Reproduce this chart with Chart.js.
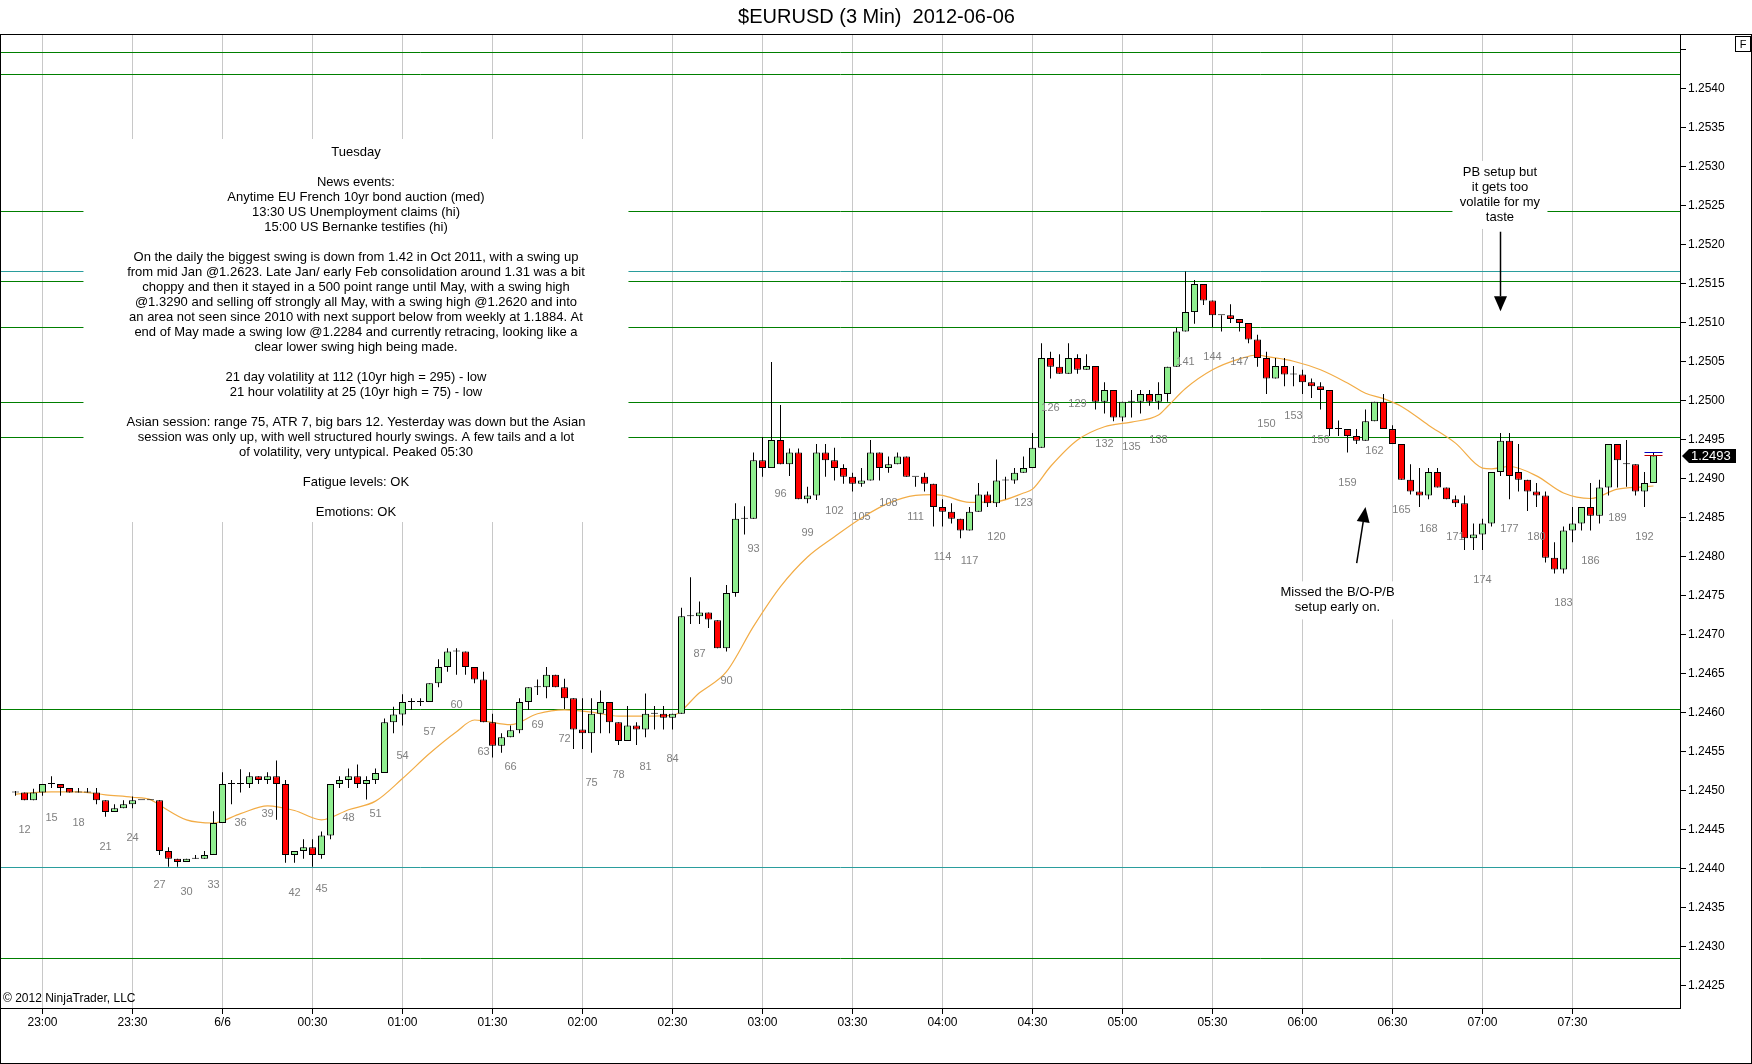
<!DOCTYPE html>
<html>
<head>
<meta charset="utf-8">
<title>$EURUSD (3 Min) 2012-06-06</title>
<script src="https://cdn.jsdelivr.net/npm/chart.js@4.4.1/dist/chart.umd.min.js"></script>
<style>
  html, body { margin: 0; padding: 0; background: #fff; }
  #wrap { width: 1752px; height: 1064px; position: relative; }
</style>
</head>
<body>
<div id="wrap"><canvas id="myChart"></canvas></div>
<script>
'use strict';

// first bar number shown on the chart, every following bar is +1
const firstBar = 11;

// OHLC, bars 11 .. 193 (10 per line)
const opens = [
  1.24498, 1.24498, 1.24488, 1.24498, 1.24509, 1.24509, 1.24504, 1.24498, 1.24498, 1.24498,
  1.24488, 1.24473, 1.24478, 1.24483, 1.24488, 1.24488, 1.24488, 1.24423, 1.24413, 1.24409,
  1.24413, 1.24413, 1.24418, 1.24459, 1.24509, 1.24509, 1.24509, 1.24519, 1.24514, 1.24519,
  1.24509, 1.24418, 1.24423, 1.24428, 1.24418, 1.24443, 1.24509, 1.24514, 1.24519, 1.24509,
  1.24514, 1.24523, 1.24588, 1.24598, 1.24614, 1.24614, 1.24614, 1.24638, 1.24659, 1.24679,
  1.24679, 1.24659, 1.24643, 1.24588, 1.24558, 1.24569, 1.24578, 1.24614, 1.24633, 1.24633,
  1.24649, 1.24633, 1.24619, 1.24579, 1.24574, 1.24599, 1.24614, 1.24588, 1.24564, 1.24584,
  1.24579, 1.24599, 1.24599, 1.24594, 1.24599, 1.24724, 1.24724, 1.24729, 1.24719, 1.24683,
  1.24754, 1.24849, 1.24849, 1.24924, 1.24914, 1.24950, 1.24919, 1.24934, 1.24874, 1.24879,
  1.24934, 1.24924, 1.24914, 1.24903, 1.24894, 1.24898, 1.24934, 1.24914, 1.24919, 1.24929,
  1.24903, 1.24903, 1.24894, 1.24864, 1.24858, 1.24849, 1.24834, 1.24858, 1.24880, 1.24869,
  1.24898, 1.24898, 1.24908, 1.24914, 1.24940, 1.25055, 1.25044, 1.25035, 1.25055, 1.25040,
  1.25045, 1.24999, 1.25014, 1.24979, 1.24999, 1.24999, 1.25009, 1.24999, 1.25009, 1.25044,
  1.25089, 1.25114, 1.25150, 1.25129, 1.25110, 1.25110, 1.25105, 1.25100, 1.25079, 1.25055,
  1.25029, 1.25045, 1.25034, 1.25034, 1.25024, 1.25019, 1.25014, 1.24964, 1.24964, 1.24955,
  1.24949, 1.24974, 1.24999, 1.24964, 1.24945, 1.24899, 1.24884, 1.24879, 1.24909, 1.24889,
  1.24874, 1.24869, 1.24824, 1.24829, 1.24843, 1.24909, 1.24949, 1.24909, 1.24899, 1.24884,
  1.24879, 1.24799, 1.24784, 1.24834, 1.24843, 1.24864, 1.24853, 1.24889, 1.24945, 1.24919,
  1.24919, 1.24884, 1.24895
];
const highs = [
  1.24500, 1.24498, 1.24503, 1.24509, 1.24519, 1.24509, 1.24504, 1.24504, 1.24504, 1.24504,
  1.24488, 1.24483, 1.24488, 1.24493, 1.24488, 1.24488, 1.24488, 1.24428, 1.24413, 1.24413,
  1.24418, 1.24423, 1.24474, 1.24524, 1.24514, 1.24528, 1.24524, 1.24519, 1.24524, 1.24539,
  1.24514, 1.24423, 1.24438, 1.24438, 1.24448, 1.24509, 1.24519, 1.24529, 1.24534, 1.24519,
  1.24529, 1.24593, 1.24608, 1.24624, 1.24619, 1.24619, 1.24638, 1.24669, 1.24683, 1.24683,
  1.24679, 1.24659, 1.24653, 1.24599, 1.24574, 1.24584, 1.24619, 1.24633, 1.24643, 1.24659,
  1.24649, 1.24644, 1.24619, 1.24619, 1.24619, 1.24629, 1.24614, 1.24588, 1.24609, 1.24588,
  1.24625, 1.24609, 1.24609, 1.24599, 1.24735, 1.24774, 1.24743, 1.24729, 1.24719, 1.24764,
  1.24869, 1.24865, 1.24934, 1.24954, 1.25050, 1.24995, 1.24939, 1.24939, 1.24890, 1.24945,
  1.24945, 1.24940, 1.24919, 1.24908, 1.24914, 1.24950, 1.24934, 1.24929, 1.24934, 1.24929,
  1.24903, 1.24908, 1.24894, 1.24874, 1.24869, 1.24849, 1.24864, 1.24895, 1.24884, 1.24925,
  1.24903, 1.24914, 1.24929, 1.24959, 1.25074, 1.25063, 1.25060, 1.25074, 1.25060, 1.25060,
  1.25045, 1.25024, 1.25014, 1.24999, 1.25014, 1.25014, 1.25014, 1.25024, 1.25044, 1.25094,
  1.25166, 1.25155, 1.25150, 1.25129, 1.25110, 1.25124, 1.25105, 1.25100, 1.25085, 1.25063,
  1.25055, 1.25055, 1.25045, 1.25040, 1.25029, 1.25024, 1.25014, 1.24975, 1.24964, 1.24964,
  1.24989, 1.24999, 1.25009, 1.24969, 1.24945, 1.24919, 1.24914, 1.24914, 1.24914, 1.24889,
  1.24879, 1.24879, 1.24843, 1.24849, 1.24909, 1.24959, 1.24959, 1.24945, 1.24899, 1.24895,
  1.24884, 1.24819, 1.24839, 1.24864, 1.24864, 1.24895, 1.24899, 1.24945, 1.24945, 1.24950,
  1.24919, 1.24909, 1.24934
];
const lows = [
  1.24494, 1.24488, 1.24488, 1.24494, 1.24504, 1.24494, 1.24498, 1.24498, 1.24498, 1.24483,
  1.24467, 1.24473, 1.24478, 1.24478, 1.24488, 1.24488, 1.24418, 1.24403, 1.24403, 1.24409,
  1.24413, 1.24413, 1.24418, 1.24459, 1.24483, 1.24498, 1.24504, 1.24509, 1.24509, 1.24463,
  1.24408, 1.24408, 1.24413, 1.24403, 1.24413, 1.24438, 1.24504, 1.24504, 1.24504, 1.24489,
  1.24509, 1.24523, 1.24574, 1.24584, 1.24604, 1.24609, 1.24614, 1.24633, 1.24653, 1.24649,
  1.24649, 1.24638, 1.24588, 1.24543, 1.24549, 1.24569, 1.24574, 1.24604, 1.24623, 1.24619,
  1.24633, 1.24605, 1.24554, 1.24554, 1.24549, 1.24574, 1.24574, 1.24559, 1.24564, 1.24559,
  1.24569, 1.24579, 1.24579, 1.24579, 1.24599, 1.24714, 1.24714, 1.24709, 1.24683, 1.24679,
  1.24749, 1.24829, 1.24849, 1.24903, 1.24914, 1.24919, 1.24904, 1.24874, 1.24869, 1.24873,
  1.24903, 1.24898, 1.24894, 1.24884, 1.24890, 1.24898, 1.24898, 1.24908, 1.24919, 1.24903,
  1.24890, 1.24884, 1.24839, 1.24839, 1.24843, 1.24824, 1.24834, 1.24858, 1.24864, 1.24864,
  1.24874, 1.24894, 1.24908, 1.24914, 1.24940, 1.25029, 1.25035, 1.25035, 1.25035, 1.25040,
  1.24989, 1.24984, 1.24974, 1.24974, 1.24979, 1.24984, 1.24994, 1.24989, 1.24999, 1.25044,
  1.25089, 1.25099, 1.25123, 1.25095, 1.25089, 1.25100, 1.25089, 1.25074, 1.25044, 1.25009,
  1.25029, 1.25019, 1.25019, 1.25009, 1.25004, 1.24989, 1.24955, 1.24955, 1.24934, 1.24945,
  1.24949, 1.24974, 1.24964, 1.24945, 1.24899, 1.24880, 1.24864, 1.24874, 1.24889, 1.24874,
  1.24864, 1.24809, 1.24809, 1.24809, 1.24839, 1.24904, 1.24874, 1.24884, 1.24859, 1.24864,
  1.24793, 1.24779, 1.24779, 1.24819, 1.24834, 1.24834, 1.24843, 1.24879, 1.24889, 1.24890,
  1.24879, 1.24864, 1.24895
];
const closes = [
  1.24498, 1.24488, 1.24498, 1.24509, 1.24509, 1.24504, 1.24498, 1.24498, 1.24498, 1.24488,
  1.24473, 1.24478, 1.24483, 1.24488, 1.24488, 1.24488, 1.24423, 1.24413, 1.24409, 1.24413,
  1.24413, 1.24418, 1.24459, 1.24509, 1.24509, 1.24509, 1.24519, 1.24514, 1.24519, 1.24509,
  1.24418, 1.24423, 1.24428, 1.24418, 1.24443, 1.24509, 1.24514, 1.24519, 1.24509, 1.24514,
  1.24523, 1.24588, 1.24598, 1.24614, 1.24614, 1.24614, 1.24638, 1.24659, 1.24679, 1.24679,
  1.24659, 1.24643, 1.24588, 1.24558, 1.24569, 1.24578, 1.24614, 1.24633, 1.24633, 1.24649,
  1.24633, 1.24619, 1.24579, 1.24574, 1.24599, 1.24614, 1.24588, 1.24564, 1.24584, 1.24579,
  1.24599, 1.24599, 1.24594, 1.24599, 1.24724, 1.24724, 1.24729, 1.24720, 1.24683, 1.24754,
  1.24849, 1.24849, 1.24924, 1.24914, 1.24950, 1.24919, 1.24934, 1.24874, 1.24879, 1.24934,
  1.24924, 1.24914, 1.24903, 1.24894, 1.24898, 1.24934, 1.24914, 1.24919, 1.24929, 1.24903,
  1.24903, 1.24894, 1.24864, 1.24858, 1.24849, 1.24834, 1.24858, 1.24880, 1.24869, 1.24898,
  1.24898, 1.24908, 1.24914, 1.24940, 1.25055, 1.25044, 1.25035, 1.25055, 1.25040, 1.25045,
  1.24999, 1.25014, 1.24979, 1.24999, 1.24999, 1.25009, 1.24999, 1.25009, 1.25044, 1.25089,
  1.25114, 1.25150, 1.25129, 1.25110, 1.25110, 1.25105, 1.25100, 1.25079, 1.25055, 1.25029,
  1.25045, 1.25034, 1.25034, 1.25024, 1.25019, 1.25014, 1.24964, 1.24964, 1.24955, 1.24949,
  1.24974, 1.24999, 1.24964, 1.24945, 1.24899, 1.24884, 1.24879, 1.24909, 1.24889, 1.24874,
  1.24869, 1.24824, 1.24829, 1.24843, 1.24909, 1.24949, 1.24904, 1.24899, 1.24884, 1.24879,
  1.24799, 1.24784, 1.24834, 1.24843, 1.24864, 1.24853, 1.24889, 1.24945, 1.24924, 1.24919,
  1.24884, 1.24895, 1.24930
];

// moving average at these bars
const emaBars = [11, 12, 15, 18, 21, 24, 26, 27, 30, 33, 36, 39, 42, 45, 48, 51, 54, 57, 60, 62,
  63, 66, 69, 72, 75, 78, 81, 84, 87, 90, 93, 96, 99, 102, 105, 108, 111, 113, 114, 117,
  120, 123, 124, 126, 129, 132, 135, 138, 139, 141, 144, 147, 149, 150, 153, 156, 159, 161, 163, 165,
  168, 171, 174, 175, 177, 180, 183, 186, 189, 192, 193];
const emaValues = [1.24496, 1.24497, 1.24499, 1.24499, 1.24495, 1.24492, 1.24489, 1.24482, 1.24463, 1.24459,
  1.24471, 1.24481, 1.24475, 1.24463, 1.24476, 1.24487, 1.24516, 1.24548, 1.24576, 1.24591,
  1.24590, 1.24585, 1.24599, 1.24604, 1.24601, 1.24596, 1.24596, 1.24597, 1.24626, 1.24653,
  1.24711, 1.24762, 1.24800, 1.24826, 1.24850, 1.24869, 1.24879, 1.24880, 1.24879, 1.24870,
  1.24871, 1.24882, 1.24887, 1.24916, 1.24950, 1.24967, 1.24973, 1.24982, 1.24993, 1.25016,
  1.25040, 1.25054, 1.25059, 1.25057, 1.25051, 1.25040, 1.25023, 1.25010, 1.25003, 1.24993,
  1.24969, 1.24946, 1.24914, 1.24913, 1.24916, 1.24904, 1.24882, 1.24875, 1.24887, 1.24890,
  1.24891];

// horizontal lines drawn on the chart
const greenLevels = [1.25448, 1.25419, 1.25244, 1.25154, 1.25095, 1.24999, 1.24954, 1.24605, 1.24286];
const tealLevels = [1.25167, 1.24403];

// last bid / ask marks on the last bar
const lastBid = 1.24931;
const lastAsk = 1.24935;

// axes
const timeTickBars = [14, 24, 34, 44, 54, 64, 74, 84, 94, 104, 114, 124, 134, 144, 154, 164, 174, 184];
const timeLabels = ['23:00', '23:30', '6/6', '00:30', '01:00', '01:30', '02:00', '02:30', '03:00',
  '03:30', '04:00', '04:30', '05:00', '05:30', '06:00', '06:30', '07:00', '07:30'];
const priceTicks = [1.2425, 1.2430, 1.2435, 1.2440, 1.2445, 1.2450, 1.2455, 1.2460, 1.2465, 1.2470,
  1.2475, 1.2480, 1.2485, 1.2490, 1.2495, 1.2500, 1.2505, 1.2510, 1.2515, 1.2520,
  1.2525, 1.2530, 1.2535, 1.2540, 1.2545];
const priceTickLabels = ['1.2425', '1.2430', '1.2435', '1.2440', '1.2445', '1.2450', '1.2455', '1.2460',
  '1.2465', '1.2470', '1.2475', '1.2480', '1.2485', '1.2490', '1.2495', '1.2500', '1.2505', '1.2510',
  '1.2515', '1.2520', '1.2525', '1.2530', '1.2535', '1.2540', ''];

// text notes drawn on the chart (anchored at bar / price)
const notes = [
  { bar: 48.83, price: 1.253186, half: 272.5, padTop: 13.5, padBottom: 9.5, lines: [
    'Tuesday', '',
    'News events:',
    'Anytime EU French 10yr bond auction (med)',
    '13:30 US Unemployment claims (hi)',
    '15:00 US Bernanke testifies (hi)', '',
    'On the daily the biggest swing is down from 1.42 in Oct 2011, with a swing up',
    'from mid Jan @1.2623. Late Jan/ early Feb consolidation around 1.31 was a bit',
    'choppy and then it stayed in a 500 point range until May, with a swing high',
    '@1.3290 and selling off strongly all May, with a swing high @1.2620 and into',
    'an area not seen since 2010 with next support below from weekly at 1.1884. At',
    'end of May made a swing low @1.2284 and currently retracing, looking like a',
    'clear lower swing high being made.', '',
    '21 day volatility at 112 (10yr high = 295) - low',
    '21 hour volatility at 25 (10yr high = 75) - low', '',
    'Asian session: range 75, ATR 7, big bars 12. Yesterday was down but the Asian',
    'session was only up, with well structured hourly swings. A few tails and a lot',
    'of volatility, very untypical. Peaked 05:30', '',
    'Fatigue levels: OK', '',
    'Emotions: OK'] },
  { bar: 175.94, price: 1.25293, half: 47.5, padTop: 11.5, padBottom: 11.5,
    lines: ['PB setup but', 'it gets too', 'volatile for my', 'taste'] },
  { bar: 157.89, price: 1.24754, half: 62.5, padTop: 11.5, padBottom: 11.5,
    lines: ['Missed the B/O-P/B', 'setup early on.'] }
];
const arrows = [
  { fromBar: 176.0, fromPrice: 1.25217, toBar: 176.0, toPrice: 1.25115 },
  { fromBar: 160.02, fromPrice: 1.24792, toBar: 161.0, toPrice: 1.24864 }
];

const FONT = '"Liberation Sans", Arial, sans-serif';
Chart.defaults.font.family = FONT;
Chart.defaults.color = '#000';

const upColor = '#90ee90';
const downColor = '#ff0000';

function barX(i) {
  return firstBar + i;
}

function drawArrow(ctx, x0, y0, x1, y1) {
  let ang = Math.atan2(y1 - y0, x1 - x0);
  let len = 15, hw = 6.5;
  let bx = x1 - len * Math.cos(ang), by = y1 - len * Math.sin(ang);
  ctx.strokeStyle = '#000';
  ctx.fillStyle = '#000';
  ctx.lineWidth = 1.5;
  ctx.beginPath();
  ctx.moveTo(x0, y0);
  ctx.lineTo(bx, by);
  ctx.stroke();
  ctx.beginPath();
  ctx.moveTo(x1, y1);
  ctx.lineTo(bx + hw * Math.sin(ang), by - hw * Math.cos(ang));
  ctx.lineTo(bx - hw * Math.sin(ang), by + hw * Math.cos(ang));
  ctx.closePath();
  ctx.fill();
}

const overlay = {
  id: 'overlay',
  beforeDatasetsDraw(chart) {
    let ctx = chart.ctx;
    let a = chart.chartArea;
    let xs = chart.scales.x, ys = chart.scales.y;
    ctx.save();
    ctx.beginPath();
    ctx.rect(a.left, a.top, a.right - a.left, a.bottom - a.top);
    ctx.clip();
    ctx.lineWidth = 1;
    ctx.strokeStyle = '#007f00';
    greenLevels.forEach(p => {
      let y = Math.round(ys.getPixelForValue(p)) + 0.5;
      ctx.beginPath(); ctx.moveTo(a.left, y); ctx.lineTo(a.right, y); ctx.stroke();
    });
    ctx.strokeStyle = '#2a9d9d';
    tealLevels.forEach(p => {
      let y = Math.round(ys.getPixelForValue(p)) + 0.5;
      ctx.beginPath(); ctx.moveTo(a.left, y); ctx.lineTo(a.right, y); ctx.stroke();
    });

    // notes with white background
    ctx.font = '13px ' + FONT;
    ctx.textAlign = 'center';
    ctx.textBaseline = 'middle';
    notes.forEach(n => {
      let cx = xs.getPixelForValue(n.bar);
      let cy = ys.getPixelForValue(n.price);
      let h = (n.lines.length - 1) * 15;
      ctx.fillStyle = '#fff';
      ctx.fillRect(cx - n.half, cy - n.padTop, n.half * 2, h + n.padTop + n.padBottom);
      ctx.fillStyle = '#000';
      n.lines.forEach((t, i) => ctx.fillText(t, cx, cy + i * 15));
    });

    arrows.forEach(ar => {
      drawArrow(ctx, xs.getPixelForValue(ar.fromBar), ys.getPixelForValue(ar.fromPrice),
        xs.getPixelForValue(ar.toBar), ys.getPixelForValue(ar.toPrice));
    });
    ctx.restore();
  },
  afterDatasetsDraw(chart) {
    let ctx = chart.ctx;
    let xs = chart.scales.x, ys = chart.scales.y;
    ctx.save();
    // bar numbers every 3 bars, under the low
    ctx.font = '11px ' + FONT;
    ctx.fillStyle = '#808080';
    ctx.textAlign = 'center';
    ctx.textBaseline = 'middle';
    for (let i = 0; i < lows.length; i++) {
      let n = barX(i);
      if (n % 3 !== 0) continue;
      ctx.fillText(String(n), xs.getPixelForValue(n), ys.getPixelForValue(lows[i]) + 30);
    }
    // bid / ask marks
    let lx = xs.getPixelForValue(barX(closes.length - 1));
    ctx.lineWidth = 1;
    ctx.strokeStyle = '#c00000';
    let yb = Math.round(ys.getPixelForValue(lastBid)) + 0.5;
    ctx.beginPath(); ctx.moveTo(lx - 9, yb); ctx.lineTo(lx + 9, yb); ctx.stroke();
    ctx.strokeStyle = '#0000c0';
    let ya = Math.round(ys.getPixelForValue(lastAsk)) + 0.5;
    ctx.beginPath(); ctx.moveTo(lx - 9, ya); ctx.lineTo(lx + 9, ya); ctx.stroke();
    ctx.restore();
  },
  afterDraw(chart) {
    let ctx = chart.ctx;
    let a = chart.chartArea;
    let ys = chart.scales.y;
    ctx.save();
    // outer frame
    ctx.strokeStyle = '#000';
    ctx.lineWidth = 1;
    ctx.strokeRect(0.5, a.top + 0.5, chart.width - 1, chart.height - a.top - 1);
    // F box
    ctx.strokeRect(chart.width - 16.5, a.top + 2.5, 15, 15);
    ctx.fillStyle = '#000';
    ctx.font = '11px ' + FONT;
    ctx.textAlign = 'center';
    ctx.textBaseline = 'middle';
    ctx.fillText('F', chart.width - 9, a.top + 10.5);
    // copyright
    ctx.font = '12px ' + FONT;
    ctx.textAlign = 'left';
    ctx.fillText('\u00a9 2012 NinjaTrader, LLC', 3, a.bottom - 9);
    // last price marker
    let last = closes[closes.length - 1];
    let py = Math.round(ys.getPixelForValue(last));
    let x0 = a.right + 2;
    ctx.beginPath();
    ctx.moveTo(x0, py);
    ctx.lineTo(x0 + 7, py - 7);
    ctx.lineTo(x0 + 54, py - 7);
    ctx.lineTo(x0 + 54, py + 7);
    ctx.lineTo(x0 + 7, py + 7);
    ctx.closePath();
    ctx.fill();
    ctx.fillStyle = '#fff';
    ctx.font = '13px ' + FONT;
    ctx.fillText(last.toFixed(4), x0 + 9, py + 0.5);
    ctx.restore();
  }
};

let wickData = lows.map((l, i) => ({ x: barX(i), y: [l, highs[i]] }));
let bodyData = opens.map((o, i) => ({ x: barX(i), y: [o, closes[i]] }));
let bodyColors = opens.map((o, i) => closes[i] >= o ? upColor : downColor);
let emaData = emaBars.map((b, i) => ({ x: b, y: emaValues[i] }));

let ctx = document.getElementById('myChart').getContext('2d');
let chart = new Chart(ctx, {
  type: 'bar',
  data: {
    datasets: [
      {
        type: 'line',
        label: 'EMA',
        data: emaData,
        borderColor: 'rgb(242,172,70)',
        borderWidth: 1.2,
        pointRadius: 0,
        cubicInterpolationMode: 'monotone',
        order: 3
      },
      {
        label: 'wicks',
        data: wickData,
        backgroundColor: '#000',
        borderWidth: 0,
        grouped: false,
        barThickness: 1,
        maxBarThickness: 1,
        inflateAmount: 0,
        order: 2
      },
      {
        label: 'bodies',
        data: bodyData,
        backgroundColor: bodyColors,
        borderColor: '#000',
        borderWidth: 1,
        borderSkipped: false,
        grouped: false,
        barThickness: 7,
        maxBarThickness: 7,
        minBarLength: 1,
        inflateAmount: 0,
        order: 1
      }
    ]
  },
  options: {
    responsive: true,
    maintainAspectRatio: false,
    devicePixelRatio: 1,
    animation: false,
    events: [],
    layout: { padding: { left: 1, top: 0, right: 0, bottom: 0 } },
    plugins: {
      legend: { display: false },
      tooltip: { enabled: false },
      title: {
        display: true,
        text: '$EURUSD (3 Min)  2012-06-06',
        font: { size: 20, weight: 'normal', family: FONT },
        color: '#000',
        padding: { top: 5, bottom: 5 }
      }
    },
    scales: {
      x: {
        type: 'linear',
        bounds: 'data',
        offset: false,
        min: 12 - 23.5 / 9,
        max: 12 + 1655.5 / 9,
        afterBuildTicks: s => { s.ticks = timeTickBars.map(v => ({ value: v })); },
        afterFit: s => { s.height = 56; },
        ticks: {
          autoSkip: false,
          maxRotation: 0,
          padding: 1,
          font: { size: 12 },
          color: '#000',
          callback: (v, i) => timeLabels[i]
        },
        grid: {
          offset: false,
          color: '#c8c8c8',
          tickColor: '#000',
          tickLength: 6
        },
        border: { display: true, color: '#000', width: 1 }
      },
      y: {
        type: 'linear',
        position: 'right',
        bounds: 'data',
        beginAtZero: false,
        min: 1.2422179,
        max: 1.2547051,
        afterBuildTicks: s => { s.ticks = priceTicks.map(v => ({ value: v })); },
        afterFit: s => { s.width = 72; },
        ticks: {
          padding: 2,
          font: { size: 12 },
          color: '#000',
          callback: (v, i) => priceTickLabels[i]
        },
        grid: {
          drawOnChartArea: false,
          drawTicks: true,
          tickColor: '#000',
          tickLength: 6
        },
        border: { display: true, color: '#000', width: 1 }
      }
    }
  },
  plugins: [overlay]
});
</script>
</body>
</html>
